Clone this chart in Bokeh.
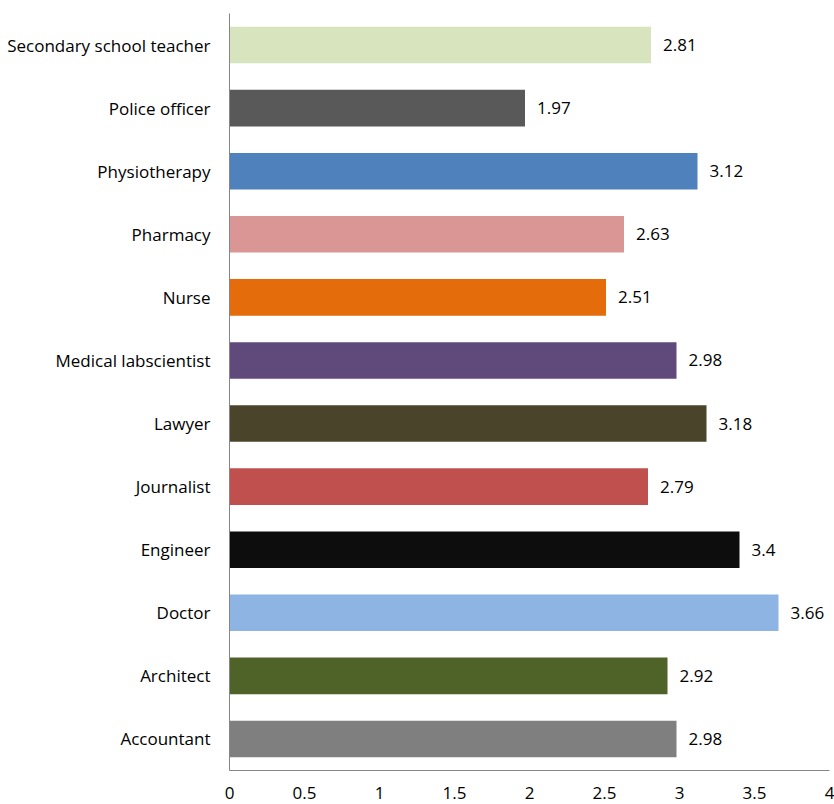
from bokeh.plotting import figure
from bokeh.models import ColumnDataSource, FixedTicker, Range1d, LabelSet
from bokeh.core.properties import value
from bokeh.embed import file_html
from bokeh.resources import INLINE

categories = ["Accountant", "Architect", "Doctor", "Engineer", "Journalist", "Lawyer",
              "Medical labscientist", "Nurse", "Pharmacy", "Physiotherapy",
              "Police officer", "Secondary school teacher"]
values = [2.98, 2.92, 3.66, 3.4, 2.79, 3.18, 2.98, 2.51, 2.63, 3.12, 1.97, 2.81]
value_labels = ["2.98", "2.92", "3.66", "3.4", "2.79", "3.18", "2.98", "2.51", "2.63", "3.12", "1.97", "2.81"]
colors = ["#7f7f7f", "#4f6228", "#8eb4e3", "#0d0d0d", "#c0504d", "#4a452a",
          "#604a7b", "#e46c0a", "#d99694", "#4f81bd", "#595959", "#d7e4bd"]
x_ticks = [0, 0.5, 1, 1.5, 2, 2.5, 3, 3.5, 4]
x_tick_labels = ["0", "0.5", "1", "1.5", "2", "2.5", "3", "3.5", "4"]

FONT = "Open Sans"

src = ColumnDataSource(dict(cat=categories, val=values, lab=value_labels, color=colors))

p = figure(y_range=categories, x_range=Range1d(0, 4), width=834, height=804,
           output_backend="svg", toolbar_location=None,
           min_border_left=229, min_border_right=5, min_border_top=13, min_border_bottom=34)
p.hbar(y="cat", right="val", left=0, height=0.58, color="color", line_color=None, source=src)

labels = LabelSet(x="val", y="cat", text="lab", source=src, x_offset=12, y_offset=0,
                  text_baseline="middle", text_font=value(FONT), text_font_size="17px",
                  text_color="#000000")
p.add_layout(labels)

p.outline_line_color = None
p.grid.grid_line_color = None
p.background_fill_color = "white"

p.xaxis.ticker = FixedTicker(ticks=x_ticks)
p.xaxis.major_label_overrides = {t: l for t, l in zip(x_ticks, x_tick_labels)}
p.xaxis.major_tick_line_color = None
p.xaxis.minor_tick_line_color = None
p.xaxis.axis_line_color = "#868686"
p.xaxis.major_label_text_font = FONT
p.xaxis.major_label_text_font_size = "17px"
p.xaxis.major_label_text_color = "#000000"
p.xaxis.major_label_standoff = 10

p.yaxis.major_tick_line_color = None
p.yaxis.minor_tick_line_color = None
p.yaxis.axis_line_color = "#868686"
p.yaxis.major_label_text_font = FONT
p.yaxis.major_label_text_font_size = "17px"
p.yaxis.major_label_text_color = "#000000"
p.yaxis.major_label_standoff = 13

open("out.html", "w").write(file_html(p, INLINE))
